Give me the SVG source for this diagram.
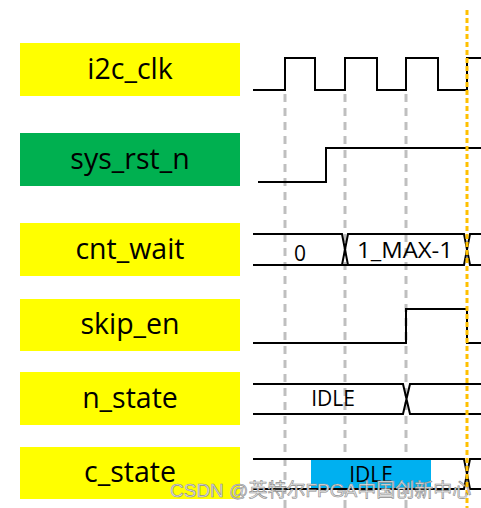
<svg xmlns="http://www.w3.org/2000/svg" width="481" height="508" viewBox="0 0 481 508">
<style>
.lbl{font-family:"Open Sans","Noto Sans","Liberation Sans",sans-serif;font-size:28.5px;fill:#000;text-anchor:middle}
.val{font-family:"Open Sans","Noto Sans","Liberation Sans",sans-serif;font-size:21px;fill:#000;text-anchor:middle}
.w{fill:none;stroke:#000;stroke-width:2}
.grid{stroke:#bfbfbf;stroke-width:3;stroke-dasharray:8 6}
.y{fill:#ffff00}
.wm{font-family:"Liberation Sans","Noto Sans CJK SC",sans-serif;font-size:19px;fill:#e6e6e6;stroke:#8c8c8c;stroke-width:0.6}
</style>
<g id="grid">
<line class="grid" x1="285" y1="94" x2="285" y2="508"/>
<line class="grid" x1="345" y1="94" x2="345" y2="508"/>
<line class="grid" x1="406" y1="94" x2="406" y2="508"/>
</g>
<g id="i2c_clk">
<rect class="y" x="20" y="43" width="220" height="53"/>
<text class="lbl" x="130" y="79">i2c_clk</text>
<path class="w" d="M253 90H285V58H315V90H345V58H377V90H406V58H438V90H467V58H481"/>
</g>
<g id="sys_rst_n">
<rect x="20" y="133" width="220" height="53" fill="#00b050"/>
<text class="lbl" x="130" y="169">sys_rst_n</text>
<path class="w" d="M258 182H326V148H481"/>
</g>
<g id="cnt_wait">
<rect class="y" x="20" y="223" width="220" height="53"/>
<text class="lbl" x="130" y="259">cnt_wait</text>
<path class="w" d="M253 234H342L348 265H253M253 265H342L348 234H464L470 265H481M348 265H464L470 234H481"/>
<text class="val" x="300" y="261" font-size="25">0</text>
<text class="val" x="405" y="258" font-size="22" textLength="96" lengthAdjust="spacingAndGlyphs">1_MAX-1</text>
</g>
<g id="skip_en">
<rect class="y" x="20" y="299" width="220" height="52"/>
<text class="lbl" x="130" y="334">skip_en</text>
<path class="w" d="M253 343H406V309H467V343H481"/>
</g>
<g id="n_state">
<rect class="y" x="20" y="372" width="220" height="53"/>
<text class="lbl" x="130" y="408">n_state</text>
<path class="w" d="M253 384H403L410 414H481M253 414H403L410 384H481"/>
<text class="val" x="333" y="406">IDLE</text>
</g>
<g id="c_state">
<rect class="y" x="20" y="447" width="220" height="52"/>
<text class="lbl" x="130" y="482">c_state</text>
<rect x="311" y="459" width="120" height="29" fill="#00b0f0"/>
<path class="w" d="M253 459H464L470 489H481M253 489H464L470 459H481"/>
<text class="val" x="371" y="482">IDLE</text>
</g>
<line x1="467" y1="10" x2="467" y2="508" stroke="#ffc000" stroke-width="3" stroke-dasharray="5 3"/>
<text class="wm" x="170" y="497">CSDN @英特尔FPGA中国创新中心</text>
</svg>
